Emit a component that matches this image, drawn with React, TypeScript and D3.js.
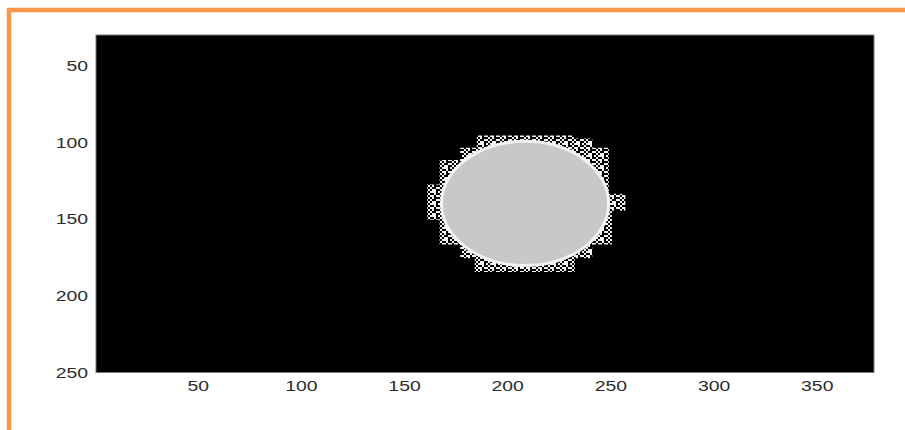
import React, { useEffect, useRef } from 'react';
import * as d3 from 'd3';

// image extent (data units, like imagesc pixel centres)
const xExtent: [number, number] = [0.5, 377.5];
const yExtent: [number, number] = [30.5, 250.5];
const xTicks = [50, 100, 150, 200, 250, 300, 350];
const yTicks = [50, 100, 150, 200, 250];

// the bright disc
const discCenter = [208.4, 140.3];
const discRadius = 40.5;

// ragged noisy fringe around the disc (staircase outline)
const fringeX = [185, 232, 232, 241, 241, 249, 249, 257, 257, 250.5, 250.5, 241, 241, 232.5, 232.5, 184, 184, 177, 177, 167, 167, 161, 161, 167, 167, 177, 177, 185];
const fringeY = [96, 96, 98, 98, 104, 104, 134, 134, 145, 145, 167, 167, 176, 176, 185, 185, 176, 176, 167, 167, 151, 151, 128, 128, 112, 112, 104, 104];

const W = 905;
const H = 430;
const margin = { top: 35, right: 31, bottom: 57.5, left: 96 };

export default function App() {
  const svgRef = useRef<SVGSVGElement>(null);

  useEffect(() => {
    if (!svgRef.current) return;
    d3.select(svgRef.current).selectAll('*').remove();
    const svg = d3.select(svgRef.current);

    const innerW = W - margin.left - margin.right;
    const innerH = H - margin.top - margin.bottom;

    const x = d3.scaleLinear().domain(xExtent).range([0, innerW]);
    const y = d3.scaleLinear().domain(yExtent).range([0, innerH]);

    // speckle pattern for the fringe (2px cells)
    const defs = svg.append('defs');
    const pat = defs
      .append('pattern')
      .attr('id', 'speckle')
      .attr('patternUnits', 'userSpaceOnUse')
      .attr('width', 12)
      .attr('height', 12);
    pat.append('rect').attr('width', 12).attr('height', 12).attr('fill', '#000');
    const cells = [
      [0, 0], [1, 0], [3, 0], [4, 1], [5, 0], [0, 2], [1, 1], [2, 2], [3, 2], [5, 2],
      [0, 3], [2, 4], [3, 4], [4, 3], [5, 4], [1, 5], [4, 5], [0, 5],
    ];
    pat
      .selectAll('rect.d')
      .data(cells)
      .enter()
      .append('rect')
      .attr('class', 'd')
      .attr('x', (d) => d[0] * 2)
      .attr('y', (d) => d[1] * 2)
      .attr('width', 2)
      .attr('height', 2)
      .attr('fill', '#f4f4f4');

    // orange frame
    svg
      .append('rect')
      .attr('x', 9)
      .attr('y', 10)
      .attr('width', 1000)
      .attr('height', 1000)
      .attr('fill', 'none')
      .attr('stroke', '#f79646')
      .attr('stroke-width', 4.5);

    const g = svg.append('g').attr('transform', `translate(${margin.left},${margin.top})`);

    g.append('rect').attr('width', innerW).attr('height', innerH).attr('fill', '#000');

    const pts = fringeX.map((fx, i) => [x(fx), y(fringeY[i])] as [number, number]);
    g.append('path')
      .attr('d', d3.line()(pts) + 'Z')
      .attr('fill', 'url(#speckle)');

    g.append('ellipse')
      .attr('cx', x(discCenter[0]))
      .attr('cy', y(discCenter[1]))
      .attr('rx', x(discCenter[0] + discRadius) - x(discCenter[0]))
      .attr('ry', y(discCenter[1] + discRadius) - y(discCenter[1]))
      .attr('fill', '#c8c8c8')
      .attr('stroke', '#f2f2f2')
      .attr('stroke-width', 3);

    // axes box
    g.append('rect')
      .attr('width', innerW)
      .attr('height', innerH)
      .attr('fill', 'none')
      .attr('stroke', '#777')
      .attr('stroke-width', 1);

    const font = 'Liberation Sans, Arial, sans-serif';

    g.selectAll('text.xt')
      .data(xTicks)
      .enter()
      .append('text')
      .attr('class', 'xt')
      .attr('transform', (d) => `translate(${x(d)},${innerH + 18}) scale(1.25,1)`)
      .attr('text-anchor', 'middle')
      .attr('font-family', font)
      .attr('font-size', 15.5)
      .attr('fill', '#2b2b2b')
      .text((d) => d);

    g.selectAll('text.yt')
      .data(yTicks)
      .enter()
      .append('text')
      .attr('class', 'yt')
      .attr('transform', (d) => `translate(-8,${y(d) + 6}) scale(1.25,1)`)
      .attr('text-anchor', 'end')
      .attr('font-family', font)
      .attr('font-size', 15.5)
      .attr('fill', '#2b2b2b')
      .text((d) => d);
  }, []);

  return (
    <svg
      ref={svgRef}
      width={W}
      height={H}
      style={{ position: 'absolute', left: 0, top: 0, background: '#fff' }}
    />
  );
}
